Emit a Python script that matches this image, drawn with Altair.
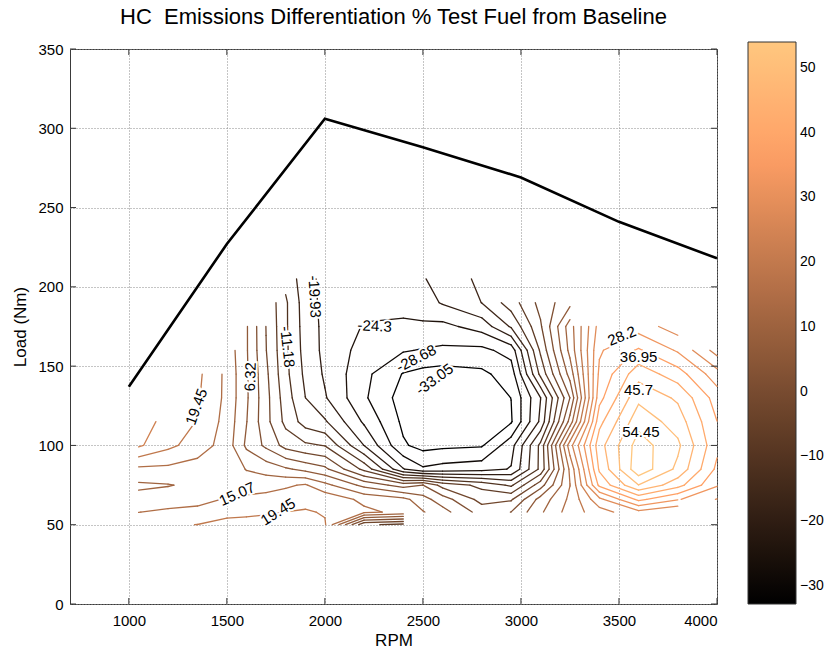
import numpy as np
import pandas as pd
import altair as alt

# ---------------- data ----------------
# grid of HC emission differences (%) : rows = load (Nm), columns = RPM
rpm_cols = [1050, 1200, 1350, 1500, 1600, 1700, 1800, 1900, 2000, 2200, 2400,
            2500, 2600, 2800, 2950, 3100, 3250, 3400, 3600, 3800, 4000]
load_rows = [50, 58, 66, 75, 85, 100, 115, 130, 145, 160, 175, 190, 205]
N = None
hc_diff = [
    [18, 19, 19.5, 21, 21, 21, 21.5, 21.5, 20, -6, -8, N, N, N, N, N, N, N, N, N, N],
    [15, 16, 16.5, 18, 18.5, 19, 19.5, 20, 19, 16, 14, 11, 8, 0, 2, 10, 17, 22, 27, 24, N],
    [12, 12.5, 13.5, 15.5, 16, 16.5, 17, 17.5, 18, 14, 12, 8, 4, -4, -3, 8, 16, 27, 38, 33, 28],
    [10, 10.5, 11.5, 13, 13, 13.5, 14.5, 15.5, 12, 5, 0, 2, -4, -8, -12, 0, 15, 38, 50, 43, 33],
    [14, 14, 13, 13.5, 10.5, 9, 7, 5, 3, -8, -24, -28, -27, -26, -24, -10, 16, 42, 57.5, 49, 36],
    [24.5, 20.5, 17.5, 13, 5.5, 1, -4, -6, -7, -20, -32.5, -34.5, -34, -33.5, -26, -10, 22, 44, 56.5, 51, 38],
    [25, 23, 19.2, 13.5, 6.5, -1, -8, -13, -15, -25, -34, -36, -37, -35.5, -33.5, -19, 8, 40, 53, 48, 37],
    [N, 23.5, 20, 14, 7, -1, -9, -15.5, -19.5, -28, -35, -36.5, -37, -36, -33, -20, 2, 35.5, 49, 45, 35],
    [N, N, 20.5, 14, 7, -1.5, -10, -16.5, -20.5, -27.5, -33.3, -34.5, -35, -34, -31, -10, 8, 33.5, 44, 39, 30],
    [N, N, N, 13.5, 6.8, -2.3, -10.3, -17.2, -21, -26, -28.3, -29, -29.5, -29.8, -27, -6, 12, 32, 37.5, 32, 22],
    [N, N, N, N, 6.8, -2.5, -10.5, -17.5, -21, -24.6, -24.9, -25, -25.5, -22.5, -15, -3, 13, 30, 30.5, 26, N],
    [N, N, N, N, N, -3, -10.5, -17.8, -21.2, -23, -23.2, -22, -19.5, -15.5, -9, -1, 5, N, N, N, N],
    [N, N, N, N, N, N, -12.5, -18, -21.5, -22.5, -22, -20.2, -18.5, -14.5, N, N, N, N, N, N, N],
]
contour_levels = [-33.05, -28.675, -24.3, -19.925, -15.55, -11.175, -6.8, -2.425,
                  1.95, 6.325, 10.7, 15.075, 19.45, 23.825, 28.2, 32.575, 36.95,
                  41.325, 45.7, 50.075, 54.45]

# full-load curve
curve_rpm = [1000, 1500, 2000, 2500, 3000, 3500, 4000]
curve_load = [137, 227, 306, 288, 269, 241, 218]

# contour labels
lab_text = ["19.45", "6.32", "-11.18", "-19.93", "-24.3", "-28.68", "-33.05",
            "28.2", "36.95", "45.7", "54.45", "15.07", "19.45"]
lab_rpm = [1345, 1620, 1809, 1948, 2254, 2466, 2559, 3515, 3600, 3600, 3612, 1552, 1761]
lab_load = [124.4, 143.3, 162.2, 193.8, 175.3, 154.9, 141.7, 169, 155.9, 134.9, 108.3, 69.4, 58.2]
lab_angle = [290, 272, 84, 87, 3, 333, 324, 338, 0, 0, 0, 336, 328]

x_ticks = [1000, 1500, 2000, 2500, 3000, 3500, 4000]
y_ticks = [0, 50, 100, 150, 200, 250, 300, 350]
cbar_ticks = [-30, -20, -10, 0, 10, 20, 30, 40, 50]

# ---------------- contour extraction (marching squares) ----------------
Z = np.array([[np.nan if v is None else v for v in row] for row in hc_diff], dtype=float)
xs_g = np.array(rpm_cols, dtype=float)
ys_g = np.array(load_rows, dtype=float)


def cross(pa, za, pb, zb, lev):
    t = (lev - za) / (zb - za)
    return (pa[0] + t * (pb[0] - pa[0]), pa[1] + t * (pb[1] - pa[1]))


segs = []
for lev in contour_levels:
    for i in range(len(ys_g) - 1):
        for j in range(len(xs_g) - 1):
            z00, z01 = Z[i, j], Z[i, j + 1]
            z10, z11 = Z[i + 1, j], Z[i + 1, j + 1]
            if np.isnan([z00, z01, z10, z11]).any():
                continue
            p00 = (xs_g[j], ys_g[i]); p01 = (xs_g[j + 1], ys_g[i])
            p10 = (xs_g[j], ys_g[i + 1]); p11 = (xs_g[j + 1], ys_g[i + 1])
            edges = [(p00, z00, p01, z01), (p01, z01, p11, z11),
                     (p10, z10, p11, z11), (p00, z00, p10, z10)]  # b, r, t, l
            pts = {}
            for k, (pa, za, pb, zb) in enumerate(edges):
                if (za >= lev) != (zb >= lev):
                    pts[k] = cross(pa, za, pb, zb, lev)
            if len(pts) == 2:
                a, b = list(pts.values())
                segs.append((a, b, lev))
            elif len(pts) == 4:
                c = (z00 + z01 + z10 + z11) / 4.0
                if (c >= lev) == (z00 >= lev):
                    pairs = [(0, 1), (2, 3)]
                else:
                    pairs = [(0, 3), (1, 2)]
                for a, b in pairs:
                    segs.append((pts[a], pts[b], lev))

seg_df = pd.DataFrame({
    "rpm": [s[0][0] for s in segs], "load": [s[0][1] for s in segs],
    "rpm2": [s[1][0] for s in segs], "load2": [s[1][1] for s in segs],
    "level": [s[2] for s in segs],
})
curve_df = pd.DataFrame({"rpm": curve_rpm, "load": curve_load})
lab_df = pd.DataFrame({"text": lab_text, "rpm": lab_rpm, "load": lab_load, "angle": lab_angle})
xtick_df = pd.DataFrame({"rpm": x_ticks})
ytick_df = pd.DataFrame({"load": y_ticks})

# ---------------- chart ----------------
FONT = "Liberation Sans"
W, H = 647, 555
xs = alt.Scale(domain=[700, 4000], nice=False, zero=False)
ys = alt.Scale(domain=[0, 350], nice=False, zero=False)
xax = alt.Axis(values=x_ticks, title="RPM", grid=True, ticks=False, domain=False,
               labelFontSize=15, titleFontSize=17, titleFontWeight="normal",
               labelPadding=9, titlePadding=4, format="d")
yax = alt.Axis(values=y_ticks, title="Load (Nm)", grid=True, ticks=False, domain=False,
               labelFontSize=15, titleFontSize=17, titleFontWeight="normal",
               labelPadding=7, titlePadding=8, format="d")
X = alt.X("rpm:Q", scale=xs, axis=xax)
Y = alt.Y("load:Q", scale=ys, axis=yax)

copper = alt.Scale(domain=[-32.8, 36.64, 54.0],
                   range=["#000000", "#ff9f65", "#ffc77f"],
                   interpolate="rgb", clamp=True)

contours = alt.Chart(seg_df).mark_rule(strokeWidth=1.3, strokeCap="round").encode(
    x=X, y=Y, x2="rpm2:Q", y2="load2:Q",
    color=alt.Color("level:Q", scale=copper,
                    legend=alt.Legend(title=None, orient="none", legendX=678, legendY=-7,
                                      direction="vertical", gradientLength=562,
                                      gradientThickness=48, values=cbar_ticks,
                                      labelFontSize=14, labelOffset=4, labelOverlap=False,
                                      gradientStrokeColor="#333333", gradientStrokeWidth=1,
                                      labelColor="black", format="d")),
)

curve = alt.Chart(curve_df).mark_line(color="black", strokeWidth=2.6).encode(x=X, y=Y)

# inward tick marks on all four sides (MATLAB style)
tick_style = dict(color="#333333", strokeWidth=1)
xt_bottom = alt.Chart(xtick_df).mark_rule(**tick_style).encode(
    x=X, y=alt.value(H), y2=alt.value(H - 6))
xt_top = alt.Chart(xtick_df).mark_rule(**tick_style).encode(
    x=X, y=alt.value(0), y2=alt.value(6))
yt_left = alt.Chart(ytick_df).mark_rule(**tick_style).encode(
    y=Y, x=alt.value(0), x2=alt.value(6))
yt_right = alt.Chart(ytick_df).mark_rule(**tick_style).encode(
    y=Y, x=alt.value(W), x2=alt.value(W - 6))

halo = alt.Chart(lab_df).mark_text(fontSize=15, font=FONT, color="white", stroke="white",
                                   strokeWidth=4, align="center", baseline="middle").encode(
    x=X, y=Y, text="text:N", angle=alt.Angle("angle:Q", scale=None))
labels = alt.Chart(lab_df).mark_text(fontSize=15, font=FONT, color="black",
                                     align="center", baseline="middle").encode(
    x=X, y=Y, text="text:N", angle=alt.Angle("angle:Q", scale=None))

chart = alt.layer(contours, curve, xt_bottom, xt_top, yt_left, yt_right, halo, labels).properties(
    width=W, height=H,
    autosize=alt.AutoSizeParams(type="none"),
    padding={"left": 70, "top": 49, "right": 107, "bottom": 47},
    title=alt.TitleParams(text="HC\u00a0 Emissions Differentiation % Test Fuel from Baseline",
                          fontSize=22, font=FONT, fontWeight="normal", anchor="middle",
                          frame="group", offset=13, color="black"),
).configure(font=FONT, background="white").configure_view(
    stroke="#3a3a3a", strokeWidth=1
).configure_axis(
    gridColor="#8a8a8a", gridDash=[1, 2], gridOpacity=1, gridWidth=1,
    labelColor="black", titleColor="black", labelFont=FONT, titleFont=FONT
).configure_legend(labelFont=FONT)

chart.save("out.html", embed_options={"renderer": "svg", "actions": False})
